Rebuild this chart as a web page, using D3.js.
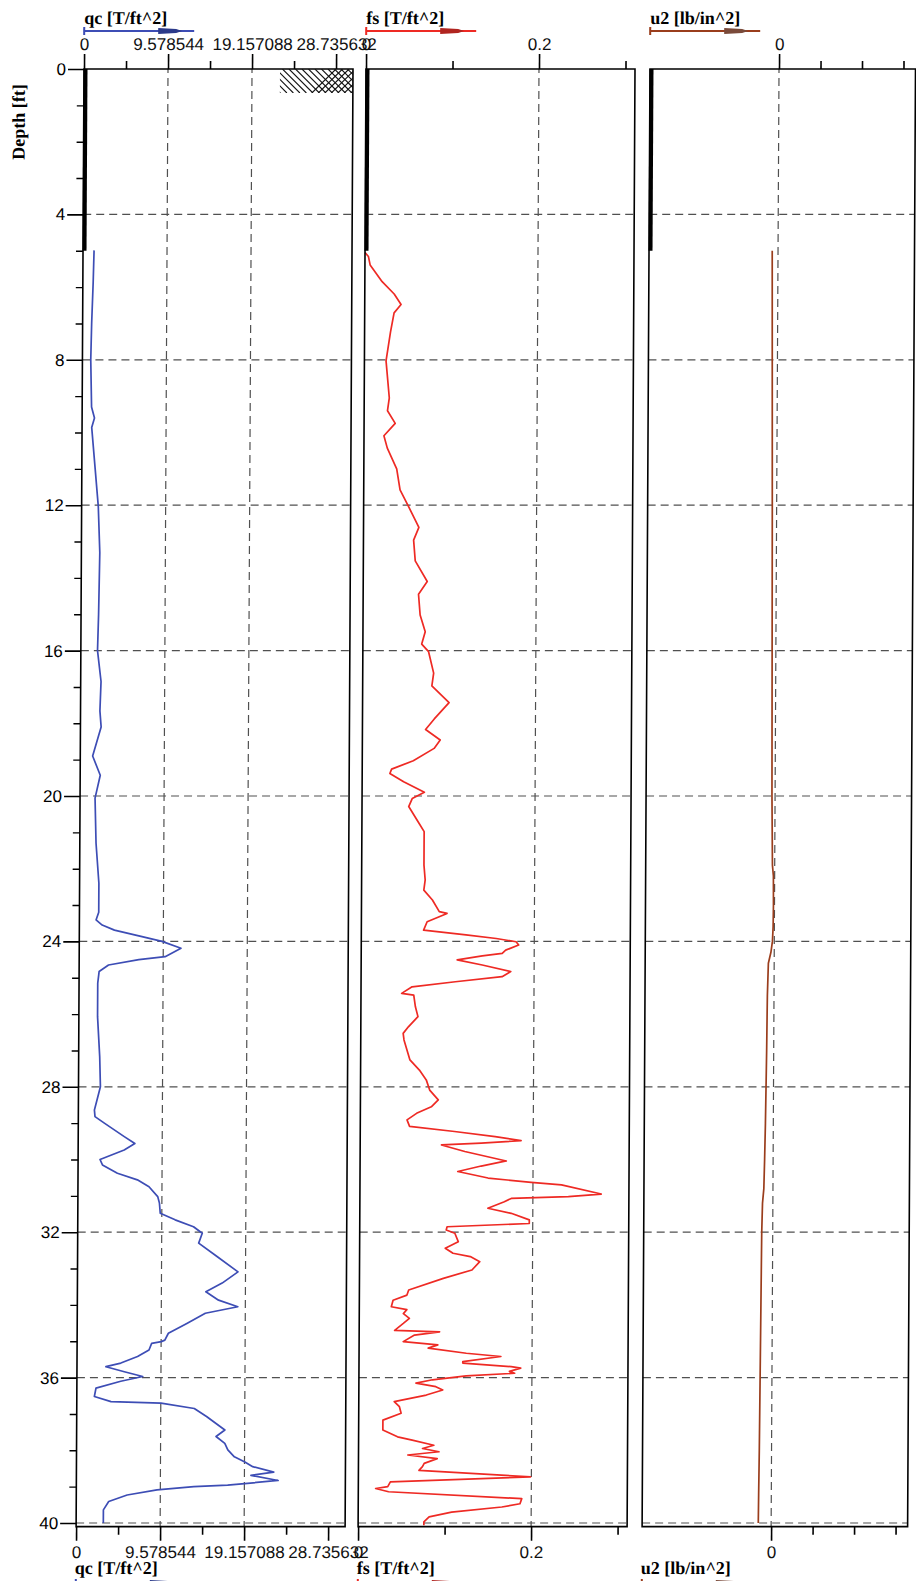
<!DOCTYPE html>
<html>
<head>
<meta charset="utf-8">
<script src="https://cdn.jsdelivr.net/npm/d3@7"></script>
<style>
  body { margin: 0; background: #fff; }
  svg { display: block; }
</style>
</head>
<body>
<div id="chart"></div>
<script>
// cone resistance qc [T/ft^2] against depth [ft]
const qcDepth = [4.99, 5.85, 7.0, 8.0, 9.3, 9.6, 9.86, 11.0, 12.04, 13.3, 15.0, 16.0, 16.85, 17.66, 18.1, 18.9, 19.43, 20.06,
  21.3, 22.4, 23.2, 23.41, 23.55, 23.69, 23.87, 24.0, 24.19, 24.42, 24.5, 24.65, 24.83, 25.15, 26.07, 27.17, 28.0, 28.64,
  28.82, 29.0, 29.37, 29.56, 29.74, 30.0, 30.15, 30.38, 30.56, 30.75, 31.02, 31.2, 31.48, 31.66, 31.85, 32.03, 32.3, 32.67,
  33.09, 33.4, 33.64, 33.87, 34.05, 34.23, 34.51, 34.78, 34.97, 35.01, 35.06, 35.24, 35.42, 35.6, 35.7, 35.84, 35.97, 36.1,
  36.29, 36.52, 36.66, 36.7, 36.85, 37.07, 37.44, 37.62, 37.81, 37.99, 38.18, 38.32, 38.45, 38.6, 38.69, 38.83, 38.96, 39.0,
  39.09, 39.23, 39.41, 39.64, 40.0];
const qcValue = [1.26, 1.18, 1.03, 0.95, 1.07, 1.41, 1.1, 1.52, 1.9, 2.1, 2.0, 1.9, 2.32, 2.21, 2.36, 1.41, 2.29, 1.71,
  1.85, 2.2, 2.2, 1.9, 2.6, 4.0, 7.15, 9.43, 11.6, 9.8, 6.8, 3.35, 2.28, 2.13, 2.13, 2.4, 2.5, 1.83,
  1.9, 2.97, 5.25, 6.46, 5.25, 2.5, 2.78, 4.49, 6.77, 8.1, 9.1, 9.3, 9.4, 11.1, 13.2, 14.2, 13.8, 15.9,
  18.3, 16.5, 14.65, 16.1, 18.3, 14.6, 12.5, 10.4, 10.0, 9.6, 8.5, 8.2, 6.9, 5.0, 3.3, 5.4, 7.5, 5.0,
  2.18, 2.0, 3.9, 9.6, 13.4, 14.8, 16.9, 15.9, 16.9, 17.25, 18.0, 19.2, 20.1, 22.5, 19.9, 23.0, 17.25, 13.4,
  9.2, 5.8, 3.7, 3.1, 3.1];

// sleeve friction fs [T/ft^2]
const fsDepth = [5.05, 5.16, 5.39, 5.85, 6.19, 6.48, 6.71, 7.23, 8.03, 9.05, 9.4, 9.75, 10.09, 10.43, 11.0, 11.58, 12.04,
  12.61, 12.96, 13.53, 14.1, 14.45, 15.02, 15.48, 15.82, 16.03, 16.62, 16.97, 17.43, 17.88, 18.17, 18.46, 18.69, 19.03,
  19.26, 19.38, 19.61, 19.9, 20.07, 20.29, 20.75, 20.98, 21.9, 22.31, 22.59, 22.86, 23.18, 23.23, 23.46, 23.69, 23.82,
  23.92, 24.01, 24.1, 24.24, 24.33, 24.4, 24.51, 24.65, 24.83, 24.97, 25.11, 25.25, 25.43, 25.48, 25.8, 26.07, 26.35,
  26.53, 26.71, 27.26, 27.54, 27.81, 28.09, 28.36, 28.55, 28.73, 28.91, 29.09, 29.23, 29.37, 29.48, 29.55, 29.6, 29.78,
  30.04, 30.18, 30.33, 30.51, 30.63, 30.7, 30.95, 31.02, 31.07, 31.16, 31.34, 31.48, 31.66, 31.76, 31.85, 31.94, 32.03,
  32.26, 32.44, 32.58, 32.67, 32.81, 33.04, 33.27, 33.59, 33.73, 33.87, 34.05, 34.13, 34.24, 34.37, 34.51, 34.7, 34.74,
  34.83, 35.01, 35.1, 35.19, 35.33, 35.42, 35.56, 35.6, 35.7, 35.74, 35.83, 35.88, 35.95, 36.06, 36.15, 36.25, 36.34,
  36.48, 36.66, 36.8, 36.98, 37.17, 37.44, 37.63, 37.72, 37.86, 37.95, 38.04, 38.13, 38.23, 38.36, 38.45, 38.55, 38.73,
  38.87, 39.0, 39.05, 39.14, 39.33, 39.47, 39.56, 39.7, 39.83, 39.97, 40.06];
const fsValue = [0.0, 0.004, 0.006, 0.02, 0.034, 0.042, 0.034, 0.03, 0.025, 0.029, 0.027, 0.036, 0.023, 0.027, 0.038, 0.042, 0.052,
  0.064, 0.058, 0.06, 0.074, 0.064, 0.066, 0.072, 0.068, 0.076, 0.082, 0.08, 0.1, 0.083, 0.073, 0.09, 0.083, 0.059,
  0.034, 0.032, 0.048, 0.072, 0.058, 0.054, 0.066, 0.072, 0.072, 0.0735, 0.072, 0.082, 0.09, 0.099, 0.076, 0.072, 0.121,
  0.156, 0.179, 0.182, 0.167, 0.163, 0.14, 0.111, 0.14, 0.173, 0.163, 0.109, 0.059, 0.047, 0.061, 0.063, 0.066, 0.055,
  0.049, 0.05, 0.057, 0.068, 0.076, 0.08, 0.09, 0.082, 0.065, 0.054, 0.057, 0.109, 0.156, 0.186, 0.14, 0.094, 0.121,
  0.169, 0.14, 0.113, 0.148, 0.198, 0.233, 0.279, 0.241, 0.175, 0.167, 0.148, 0.175, 0.196, 0.196, 0.101, 0.1, 0.11,
  0.114, 0.099, 0.108, 0.128, 0.139, 0.13, 0.097, 0.057, 0.055, 0.039, 0.037, 0.055, 0.051, 0.058, 0.051, 0.041, 0.093,
  0.064, 0.051, 0.091, 0.08, 0.124, 0.164, 0.12, 0.12, 0.176, 0.187, 0.174, 0.18, 0.124, 0.085, 0.066, 0.089, 0.097,
  0.078, 0.041, 0.047, 0.049, 0.028, 0.028, 0.045, 0.062, 0.087, 0.074, 0.093, 0.057, 0.091, 0.076, 0.074, 0.07, 0.199,
  0.037, 0.034, 0.02, 0.035, 0.189, 0.187, 0.166, 0.108, 0.082, 0.076, 0.076];

// pore pressure u2 [lb/in^2]
const u2Depth = [5.0, 8, 12, 16, 20, 21.9, 22.2, 23.0, 23.6, 24.0, 24.3, 24.6, 25.5, 27, 28, 29, 30, 30.8, 31.2, 32, 34, 36, 38, 39.2, 40.0];
const u2Value = [-1.4, -1.25, -1.05, -0.9, -0.75, -0.55, -0.3, -0.25, -0.3, -0.45, -0.8, -1.4, -1.6, -1.7, -1.8, -1.9, -2.05, -2.2, -2.5, -2.65, -2.75, -2.85, -2.95, -3.05, -3.1];

const predrillDepth = 5.0;

const depthTicks = [0, 4, 8, 12, 16, 20, 24, 28, 32, 36, 40];
const qcTicks = [0, 9.578544, 19.157088, 28.735632];
const qcTickLabels = ['0', '9.578544', '19.157088', '28.735632'];
const qcMinor = [4.789272, 14.367816, 23.94636];
const fsTicks = [0, 0.2];
const fsTickLabels = ['0', '0.2'];
const fsMinor = [0.1, 0.3];
const u2Ticks = [0];
const u2TickLabels = ['0'];
const u2Minor = [10, 20, 30];

const W = 916, H = 1581;
const topY = 69;
const y = d3.scaleLinear().domain([0, 40]).range([69, 1523]);
const bottomY = y(40.1);
const tickFont = 'Liberation Sans, Arial, sans-serif';
const titleFont = 'Liberation Serif, Times New Roman, serif';

const svg = d3.select('#chart').append('svg').attr('width', W).attr('height', H);
const defs = svg.append('defs');

// the scanned log leans a little to the left
const root = svg.append('g')
  .attr('transform', `translate(0,${topY}) skewX(-0.31) translate(0,${-topY})`);

const panels = [
  { title: 'qc [T/ft^2]', x0: 84, x1: 353, domain: [0, 30.67], color: '#3d4db5', arrow: '#2b3a8a',
    depth: qcDepth, value: qcValue, ticks: qcTicks, labels: qcTickLabels, minor: qcMinor, grid: [9.578544, 19.157088] },
  { title: 'fs [T/ft^2]', x0: 366, x1: 635, domain: [0, 0.311], color: '#ee2a24', arrow: '#b02520',
    depth: fsDepth, value: fsValue, ticks: fsTicks, labels: fsTickLabels, minor: fsMinor, grid: [0.2] },
  { title: 'u2 [lb/in^2]', x0: 650, x1: 915.5, domain: [-31.1, 32.9], color: '#9a3d1c', arrow: '#7a4a3a',
    depth: u2Depth, value: u2Value, ticks: u2Ticks, labels: u2TickLabels, minor: u2Minor, grid: [0] }
];

function legendLine(g, x, yy, p) {
  g.append('line').attr('x1', x).attr('x2', x + 110).attr('y1', yy).attr('y2', yy)
    .attr('stroke', p.color).attr('stroke-width', 2.2);
  g.append('line').attr('x1', x).attr('x2', x).attr('y1', yy - 4).attr('y2', yy + 4)
    .attr('stroke', p.color).attr('stroke-width', 2);
  g.append('path')
    .attr('d', `M${x + 74},${yy - 3}L${x + 92},${yy - 2}L${x + 98},${yy}L${x + 92},${yy + 2}L${x + 74},${yy + 3}Z`)
    .attr('fill', p.arrow);
}

panels.forEach(p => {
  const x = d3.scaleLinear().domain(p.domain).range([p.x0, p.x1]);
  const g = root.append('g');

  // grid
  g.selectAll('.hgrid').data(depthTicks.slice(1)).enter().append('line')
    .attr('x1', p.x0).attr('x2', p.x1)
    .attr('y1', d => y(d)).attr('y2', d => y(d))
    .attr('stroke', '#505050').attr('stroke-width', 1.2).attr('stroke-dasharray', '8,5');
  g.selectAll('.vgrid').data(p.grid).enter().append('line')
    .attr('x1', d => x(d)).attr('x2', d => x(d))
    .attr('y1', topY).attr('y2', bottomY)
    .attr('stroke', '#505050').attr('stroke-width', 1.2).attr('stroke-dasharray', '8,5').attr('stroke-dashoffset', -9);

  // data
  const line = d3.line().x((d, i) => x(p.value[i])).y((d, i) => y(p.depth[i]));
  g.append('path').datum(p.depth)
    .attr('d', line)
    .attr('fill', 'none').attr('stroke', p.color).attr('stroke-width', 1.7).attr('stroke-linejoin', 'round');

  // predrill marker
  g.append('line').attr('x1', p.x0 + 1.5).attr('x2', p.x0 + 1.5).attr('y1', y(0)).attr('y2', y(predrillDepth))
    .attr('stroke', '#000').attr('stroke-width', 4);

  // frame
  g.append('rect').attr('x', p.x0).attr('y', topY).attr('width', p.x1 - p.x0).attr('height', bottomY - topY)
    .attr('fill', 'none').attr('stroke', '#000').attr('stroke-width', 1.6);

  // axes
  const clean = a => a.call(s => s.select('.domain').remove())
    .call(s => s.selectAll('line').attr('stroke-width', 1.6))
    .attr('font-family', tickFont).attr('font-size', 17)
    .call(s => s.selectAll('text').attr('fill', '#111'));

  g.append('g').attr('transform', `translate(0,${topY})`)
    .call(d3.axisTop(x).tickValues(p.ticks).tickFormat((d, i) => p.labels[i]).tickSize(15).tickPadding(4))
    .call(clean);
  g.append('g').attr('transform', `translate(0,${topY})`)
    .call(d3.axisTop(x).tickValues(p.minor).tickFormat('').tickSize(8))
    .call(clean);
  g.append('g').attr('transform', `translate(0,${bottomY})`)
    .call(d3.axisBottom(x).tickValues(p.ticks).tickFormat((d, i) => p.labels[i]).tickSize(14).tickPadding(5))
    .call(clean);
  g.append('g').attr('transform', `translate(0,${bottomY})`)
    .call(d3.axisBottom(x).tickValues(p.minor).tickFormat('').tickSize(8))
    .call(clean);

  // titles
  g.append('text').attr('x', p.x0).attr('y', 24).text(p.title)
    .attr('font-family', titleFont).attr('font-weight', 'bold').attr('font-size', 18);
  legendLine(g, p.x0, 31, p);
  g.append('text').attr('x', p.x0 - 1).attr('y', 1574).text(p.title)
    .attr('font-family', titleFont).attr('font-weight', 'bold').attr('font-size', 18);
  legendLine(g, p.x0, 1583, p);
});

// depth axis
root.append('g').attr('transform', 'translate(84,0)')
  .call(d3.axisLeft(y).tickValues(depthTicks).tickSize(16).tickPadding(2))
  .call(s => s.select('.domain').remove())
  .call(s => s.selectAll('line').attr('stroke-width', 1.6))
  .attr('font-family', tickFont).attr('font-size', 17);
root.append('g').attr('transform', 'translate(84,0)')
  .call(d3.axisLeft(y).tickValues(d3.range(0, 41).filter(d => d % 4)).tickSize(7).tickFormat(''))
  .call(s => s.select('.domain').remove())
  .call(s => s.selectAll('line').attr('stroke-width', 1.4));

root.append('text')
  .attr('transform', 'translate(25,122) rotate(-90)')
  .attr('text-anchor', 'middle')
  .attr('font-family', titleFont).attr('font-weight', 'bold').attr('font-size', 18)
  .text('Depth [ft]');

// soil symbol at the top of the qc track
defs.append('clipPath').attr('id', 'hatch-clip')
  .append('rect').attr('x', 280).attr('y', topY).attr('width', 73).attr('height', 24);
const hatch = root.append('g').attr('clip-path', 'url(#hatch-clip)')
  .attr('stroke', '#111').attr('stroke-width', 1.1);
d3.range(250, 360, 6.5).forEach(x0 => {
  hatch.append('line').attr('x1', x0).attr('y1', topY).attr('x2', x0 + 24).attr('y2', topY + 24);
});
d3.range(312, 390, 6.5).forEach(x0 => {
  hatch.append('line').attr('x1', x0).attr('y1', topY + 24).attr('x2', x0 + 24).attr('y2', topY);
});
</script>
</body>
</html>
